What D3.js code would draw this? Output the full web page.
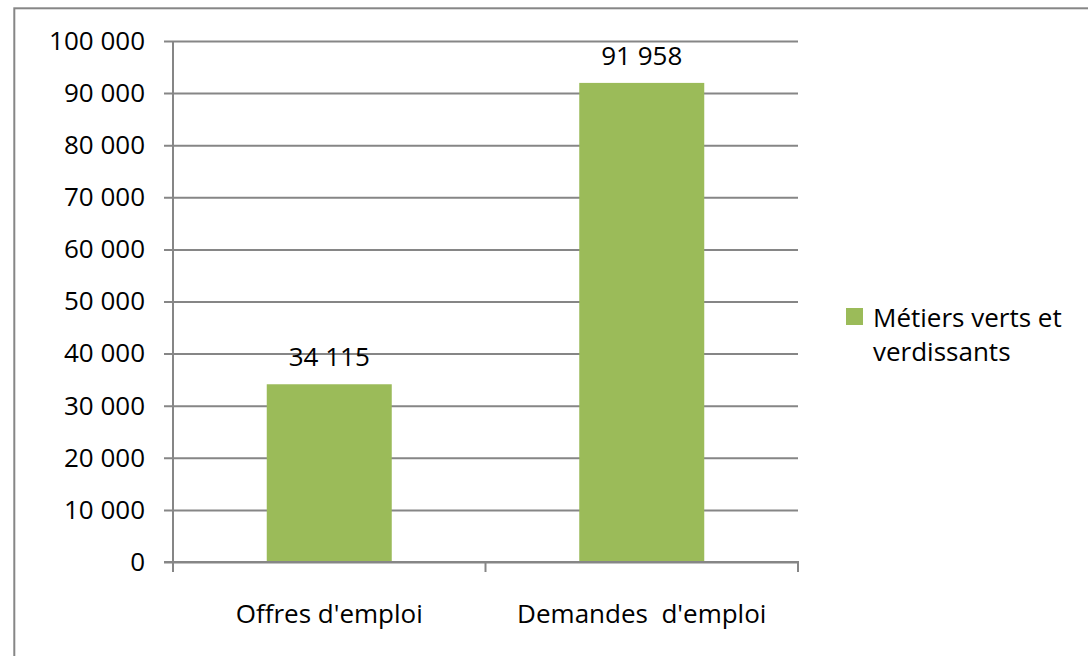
<!DOCTYPE html>
<html>
<head>
<meta charset="utf-8">
<script src="https://cdn.jsdelivr.net/npm/d3@7"></script>
<style>
  html, body { margin: 0; padding: 0; background: #fff; }
  svg { display: block; font-family: "Open Sans", "Noto Sans", sans-serif; }
</style>
</head>
<body>
<div id="chart"></div>
<script>
// chart data
const categories = ["Offres d'emploi", "Demandes  d'emploi"];
const values = [34115, 91958];
const seriesName = ["Métiers verts et", "verdissants"];
const yTicks = [0, 10000, 20000, 30000, 40000, 50000, 60000, 70000, 80000, 90000, 100000];

const width = 1088, height = 656;
const plot = { left: 173, right: 798, top: 41, bottom: 562 };
const grey = '#868686';
const green = '#9BBB59';

const fr = d3.formatLocale({ decimal: ',', thousands: ' ', grouping: [3], currency: ['', ' €'] });
const fmt = fr.format(',d');

const svg = d3.select('#chart')
  .append('svg')
  .attr('width', width)
  .attr('height', height);

// outer frame (runs off the right and bottom edges)
svg.append('rect')
  .attr('x', 14.3).attr('y', 8.3)
  .attr('width', 1200).attr('height', 800)
  .attr('fill', 'none')
  .attr('stroke', grey)
  .attr('stroke-width', 2);

const x = d3.scaleBand()
  .domain(categories)
  .range([plot.left, plot.right])
  .paddingInner(0.6)
  .paddingOuter(0.3);

const xTicks = d3.scaleBand().domain(categories).range([plot.left, plot.right]);

const y = d3.scaleLinear()
  .domain([0, 100000])
  .range([plot.bottom, plot.top]);

// gridlines + y axis ticks
const yAxis = svg.append('g')
  .attr('transform', `translate(${plot.left},0)`)
  .call(d3.axisLeft(y).tickValues(yTicks).tickFormat(fmt).tickSize(9))
  .attr('font-family', null)
  .attr('font-size', null);
yAxis.select('.domain').remove();
yAxis.selectAll('.tick line')
  .attr('x2', plot.right - plot.left)
  .attr('x1', -9)
  .attr('stroke', grey)
  .attr('stroke-width', 2);
yAxis.selectAll('.tick text')
  .attr('x', -28)
  .attr('fill', '#000')
  .style('font-size', '26px');

// bars
svg.selectAll('rect.bar')
  .data(values)
  .enter()
  .append('rect')
  .attr('class', 'bar')
  .attr('x', (d, i) => x(categories[i]))
  .attr('width', x.bandwidth())
  .attr('y', d => y(d))
  .attr('height', d => y(0) - y(d))
  .attr('fill', green);

// value labels
svg.selectAll('text.val')
  .data(values)
  .enter()
  .append('text')
  .attr('class', 'val')
  .attr('x', (d, i) => x(categories[i]) + x.bandwidth() / 2)
  .attr('y', d => y(d) - 18)
  .attr('text-anchor', 'middle')
  .style('font-size', '26px')
  .text(d => fmt(d));

// y axis line
svg.append('line')
  .attr('x1', plot.left).attr('x2', plot.left)
  .attr('y1', plot.top).attr('y2', plot.bottom)
  .attr('stroke', grey).attr('stroke-width', 2);

// x axis with ticks between categories
const xAxis = svg.append('g')
  .attr('transform', `translate(0,${plot.bottom})`);
xAxis.append('line')
  .attr('x1', plot.left - 9).attr('x2', plot.right + 1)
  .attr('stroke', grey).attr('stroke-width', 2);
const edges = [plot.left].concat(categories.map(c => xTicks(c) + xTicks.bandwidth()));
xAxis.selectAll('line.tk')
  .data(edges)
  .enter()
  .append('line')
  .attr('class', 'tk')
  .attr('x1', d => d).attr('x2', d => d)
  .attr('y1', 0).attr('y2', 10)
  .attr('stroke', grey).attr('stroke-width', 2);
xAxis.selectAll('text.cat')
  .data(categories)
  .enter()
  .append('text')
  .attr('class', 'cat')
  .attr('x', d => xTicks(d) + xTicks.bandwidth() / 2)
  .attr('y', 61)
  .attr('text-anchor', 'middle')
  .style('font-size', '26px')
  .style('white-space', 'pre')
  .attr('xml:space', 'preserve')
  .text(d => d);

// legend
const legend = svg.append('g').attr('transform', 'translate(846,308)');
legend.append('rect')
  .attr('width', 17).attr('height', 17)
  .attr('fill', green);
legend.selectAll('text')
  .data(seriesName)
  .enter()
  .append('text')
  .attr('x', 27)
  .attr('y', (d, i) => 19 + i * 34)
  .style('font-size', '26px')
  .text(d => d);
</script>
</body>
</html>
